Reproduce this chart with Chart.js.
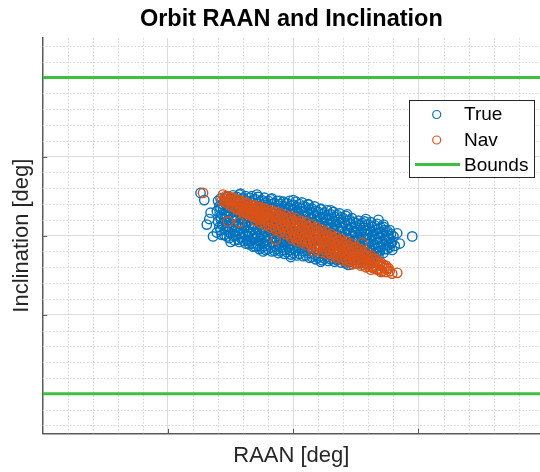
<!DOCTYPE html>
<html>
<head>
<meta charset="utf-8">
<script src="https://cdn.jsdelivr.net/npm/chart.js@4"></script>
<style>
html,body{margin:0;padding:0;background:#fff;overflow:hidden;}
canvas{display:block;}
</style>
</head>
<body>
<canvas id="c" width="540" height="472"></canvas>
<script>
// ---- axis setup (no tick labels are shown in the reference) ----
const raanRange = [0, 397];
const incRange = [-250, 250];
const majorStep = 100;
const minorStep = 20;
const incBounds = [200, -200];
const seriesLabels = ['True', 'Nav', 'Bounds'];

// ---- True orbit (RAAN, Inclination) ----
const truePoints = [
[126,54],[129,45],[131,14],[134,29],[133,21],[136,-1],
[140,44],[141,37],[139,31],[142,24],[140,18],[141,11],[139,4],
[142,47],[143,40],[142,34],[143,27],[142,21],[143,14],[142,7],[143,1],
[145,47],[146,40],[144,34],[146,28],[145,21],[144,15],[146,8],[145,1],
[147,49],[148,43],[147,37],[148,31],[147,25],[148,18],[147,12],[148,5],[147,-1],
[150,46],[151,41],[149,35],[150,28],[152,22],[149,16],[151,9],[150,3],[149,-3],
[152,51],[153,44],[152,38],[153,32],[152,25],[153,19],[152,13],[153,6],[152,0],[153,-6],
[155,49],[156,43],[154,37],[156,31],[155,25],[154,19],[156,12],[155,6],[154,0],[156,-5],
[157,52],[158,46],[157,40],[158,34],[157,28],[158,22],[157,15],[158,9],[157,3],[158,-3],[157,-8],
[160,47],[161,41],[159,34],[161,28],[160,22],[159,16],[161,10],[160,3],[159,-3],[161,-7],
[162,50],[163,44],[162,38],[163,31],[162,25],[163,19],[162,13],[163,6],[162,0],[163,-5],[162,-10],
[165,48],[166,42],[164,36],[166,30],[165,24],[164,18],[166,11],[165,5],[164,-1],[166,-7],[165,-11],
[167,50],[168,45],[167,39],[168,33],[167,27],[168,21],[167,14],[168,8],[167,2],[168,-4],[167,-10],[168,-14],
[170,46],[171,40],[169,33],[171,27],[170,21],[169,15],[171,8],[170,2],[169,-4],[171,-10],[170,-14],
[172,49],[173,43],[172,36],[173,30],[172,24],[173,18],[172,11],[173,5],[172,-1],[173,-7],[172,-13],[173,-17],
[175,45],[176,39],[174,33],[176,27],[175,21],[174,14],[176,8],[175,2],[174,-4],[176,-10],[175,-15],
[177,48],[178,42],[177,36],[178,30],[177,24],[178,17],[177,11],[178,5],[177,-1],[178,-7],[177,-13],[178,-18],
[180,44],[181,37],[179,31],[181,25],[180,19],[179,13],[181,6],[180,0],[179,-6],[181,-12],[180,-17],
[182,46],[183,40],[182,34],[183,28],[182,22],[183,16],[182,9],[183,3],[182,-3],[183,-9],[182,-15],[183,-20],
[185,41],[186,35],[184,29],[186,22],[185,16],[184,10],[186,4],[185,-3],[184,-9],[186,-14],[185,-19],
[187,44],[188,38],[187,32],[188,25],[187,19],[188,13],[187,7],[188,0],[187,-6],[188,-12],[187,-17],[188,-22],
[190,40],[191,34],[189,28],[191,22],[190,15],[189,9],[191,3],[190,-3],[189,-9],[191,-15],[190,-20],
[192,43],[193,37],[192,31],[193,25],[192,18],[193,12],[192,6],[193,0],[192,-6],[193,-12],[192,-18],[193,-23],
[195,41],[196,35],[194,29],[196,23],[195,16],[194,10],[196,4],[195,-2],[194,-8],[196,-14],[195,-21],
[197,44],[198,38],[197,32],[198,26],[197,19],[198,13],[197,7],[198,1],[197,-5],[198,-11],[197,-18],[198,-24],
[200,39],[201,33],[199,27],[201,21],[200,14],[199,8],[201,2],[200,-4],[199,-10],[201,-16],[200,-22],
[202,43],[203,36],[202,30],[203,24],[202,17],[203,11],[202,5],[203,-1],[202,-7],[203,-13],[202,-19],[203,-25],
[205,40],[206,34],[204,28],[206,22],[205,15],[204,9],[206,3],[205,-3],[204,-9],[206,-16],[205,-23],
[207,42],[208,37],[207,31],[208,25],[207,18],[208,12],[207,6],[208,0],[207,-6],[208,-12],[207,-19],[208,-26],
[210,36],[211,30],[209,24],[211,18],[210,12],[209,5],[211,-1],[210,-7],[209,-13],[211,-19],[210,-25],
[212,39],[213,33],[212,27],[213,21],[212,15],[213,8],[212,2],[213,-4],[212,-10],[213,-16],[212,-22],[213,-28],
[215,34],[216,28],[214,22],[216,16],[215,10],[214,3],[216,-3],[215,-9],[214,-15],[216,-21],[215,-27],
[217,37],[218,31],[217,25],[218,19],[217,13],[218,6],[217,0],[218,-6],[217,-12],[218,-18],[217,-24],[218,-30],
[220,30],[221,24],[219,18],[221,12],[220,6],[219,0],[221,-6],[220,-12],[219,-17],[221,-23],[220,-28],
[222,33],[223,27],[222,21],[223,15],[222,9],[223,3],[222,-3],[223,-9],[222,-15],[223,-20],[222,-26],[223,-31],
[225,29],[226,23],[224,17],[226,11],[225,5],[224,-1],[226,-7],[225,-13],[224,-19],[226,-24],[225,-29],
[227,32],[228,26],[227,20],[228,14],[227,8],[228,2],[227,-4],[228,-10],[227,-16],[228,-22],[227,-27],[228,-32],
[230,27],[231,21],[229,15],[231,9],[230,3],[229,-3],[231,-9],[230,-15],[229,-21],[231,-26],[230,-30],
[232,30],[233,24],[232,18],[233,12],[232,6],[233,0],[232,-6],[233,-12],[232,-18],[233,-24],[232,-29],[233,-33],
[235,26],[236,20],[234,14],[236,8],[235,2],[234,-4],[236,-10],[235,-16],[234,-22],[236,-27],[235,-31],
[237,28],[238,23],[237,17],[238,11],[237,5],[238,-1],[237,-7],[238,-13],[237,-19],[238,-25],[237,-30],[238,-34],
[240,22],[241,16],[239,10],[241,4],[240,-2],[239,-8],[241,-14],[240,-20],[239,-26],[241,-32],
[242,25],[243,19],[242,13],[243,7],[242,1],[243,-5],[242,-11],[243,-17],[242,-23],[243,-29],[242,-35],
[245,20],[246,14],[244,8],[246,2],[245,-4],[244,-10],[246,-16],[245,-22],[244,-28],[246,-33],
[247,22],[248,17],[247,11],[248,5],[247,-1],[248,-7],[247,-13],[248,-19],[247,-25],[248,-31],[247,-36],
[250,16],[251,10],[249,4],[251,-2],[250,-8],[249,-14],[251,-20],[250,-26],[249,-31],
[252,19],[253,13],[252,7],[253,1],[252,-5],[253,-11],[252,-17],[253,-23],[252,-29],[253,-35],
[255,16],[256,10],[254,4],[256,-2],[255,-8],[254,-14],[256,-20],[255,-26],[254,-32],
[257,18],[258,13],[257,7],[258,1],[257,-5],[258,-11],[257,-17],[258,-23],[257,-29],[258,-34],
[260,14],[261,8],[259,2],[261,-4],[260,-10],[259,-16],[261,-22],[260,-28],
[262,17],[263,11],[262,5],[263,-1],[262,-7],[263,-13],[262,-19],[263,-25],[262,-30],
[265,13],[266,7],[264,1],[266,-5],[265,-11],[264,-17],[266,-23],[265,-27],
[267,15],[268,9],[267,3],[268,-3],[267,-9],[268,-15],[267,-21],[268,-26],
[270,10],[271,4],[269,-2],[271,-8],[270,-14],[269,-20],
[272,11],[273,7],[272,1],[273,-5],[272,-11],[273,-17],[272,-22],
[275,6],[276,0],[274,-6],[276,-12],[275,-17],
[277,7],[278,2],[277,-4],[278,-10],[277,-15],
[280,-1],[279,-8],[281,-13],
[268,20],[272,14],[276,-5],[279,-18],[295,-1],[171,52],[189,44],[222,34],
[158,53],[183,47],[200,45],[212,40],[230,32],[243,27],[258,21],[150,-8],[176,-20],
[198,-27],[222,-33],[244,-37],[262,-33],[285,-10],[283,3]
];

// ---- Navigation estimate (RAAN, Inclination) ----
const navPoints = [
[144,52],[145,47],[143,44],
[146,50],[147,46],[146,42],
[148,50],[149,45],[147,41],
[150,48],[151,43],[150,39],
[152,48],[153,43],[151,37],
[154,46],[155,41],[154,37],[155,33],
[156,45],[157,40],[155,35],
[158,44],[159,39],[158,35],[159,31],
[160,43],[161,38],[159,33],[160,30],
[162,42],[163,37],[162,32],[163,28],
[164,40],[165,35],[163,30],[164,27],
[166,39],[167,35],[166,30],[167,25],
[168,38],[169,33],[167,28],[168,24],
[170,38],[171,33],[170,28],[171,23],[170,19],
[172,36],[173,30],[171,25],[172,21],
[174,36],[175,31],[174,26],[175,21],[174,16],
[176,34],[177,29],[175,24],[176,18],
[178,34],[179,29],[178,24],[179,19],[178,13],
[180,31],[181,26],[179,21],[180,15],
[182,32],[183,27],[182,22],[183,16],[182,10],
[184,29],[185,24],[183,18],[184,12],
[186,30],[187,25],[186,19],[187,14],[186,8],
[188,26],[189,21],[187,15],[188,9],
[190,28],[191,22],[190,17],[191,11],[190,5],
[192,23],[193,18],[191,13],[192,7],
[194,26],[195,20],[194,14],[195,9],[194,2],
[196,22],[197,16],[195,10],[196,4],
[198,24],[199,18],[198,12],[199,6],[198,0],[199,-4],
[200,19],[201,14],[199,8],[200,3],[201,-1],
[202,22],[203,16],[202,10],[203,4],[202,-2],[203,-7],
[204,16],[205,11],[203,5],[204,0],[205,-4],
[206,19],[207,13],[206,8],[207,2],[206,-4],[207,-9],
[208,14],[209,8],[207,3],[208,-3],[209,-7],
[210,17],[211,11],[210,5],[211,0],[210,-6],[211,-12],
[212,11],[213,6],[211,0],[212,-5],[213,-10],
[214,14],[215,8],[214,2],[215,-3],[214,-9],[215,-15],
[216,9],[217,3],[215,-3],[216,-8],[217,-13],
[218,11],[219,5],[218,-1],[219,-6],[218,-12],[219,-18],
[220,6],[221,0],[219,-6],[220,-11],[221,-16],
[222,8],[223,2],[222,-4],[223,-9],[222,-15],[223,-21],
[224,3],[225,-3],[223,-8],[224,-13],[225,-18],
[226,5],[227,-1],[226,-6],[227,-12],[226,-18],[227,-23],
[228,0],[229,-6],[227,-11],[228,-16],[229,-21],
[230,2],[231,-4],[230,-9],[231,-15],[230,-21],[231,-26],
[232,-3],[233,-9],[231,-14],[232,-19],[233,-23],
[234,-1],[235,-7],[234,-12],[235,-18],[234,-23],[235,-28],
[236,-6],[237,-12],[235,-17],[236,-22],[237,-26],
[238,-4],[239,-10],[238,-15],[239,-21],[238,-26],[239,-31],
[240,-9],[241,-15],[239,-20],[240,-25],[241,-29],
[242,-7],[243,-13],[242,-18],[243,-24],[242,-29],[243,-33],
[244,-12],[245,-18],[243,-23],[244,-28],[245,-31],
[246,-10],[247,-16],[246,-21],[247,-27],[246,-32],[247,-36],
[248,-15],[249,-21],[247,-26],[248,-31],[249,-34],
[250,-14],[251,-19],[250,-24],[251,-30],[250,-35],
[252,-19],[253,-24],[251,-29],[252,-34],
[254,-17],[255,-22],[254,-27],[255,-33],[254,-38],
[256,-22],[257,-27],[255,-32],[256,-37],
[258,-21],[259,-26],[258,-31],[259,-36],[258,-40],
[260,-26],[261,-31],[259,-35],[260,-39],
[262,-25],[263,-30],[262,-35],[263,-40],
[264,-29],[265,-34],[263,-38],[264,-41],
[266,-29],[267,-34],[266,-39],[267,-43],
[268,-33],[269,-37],[267,-42],
[270,-34],[271,-39],[270,-43],
[272,-37],[273,-41],[271,-45],
[274,-38],[275,-42],[274,-46],
[276,-41],[277,-45],
[128,54],[148,18],[157,17],[186,-5],[216,-20],[255,-9],[262,-43],[270,-46],[279,-48],[283,-47]
];

const C_TRUE = '#0072BD';
const C_NAV = '#D95319';
const C_BOUND = '#3fbf3f';
const FONT = "'Liberation Sans', Arial, Helvetica, sans-serif";

const toXY = p => ({x: p[0], y: p[1]});

const isMajor = v => Math.abs(v % majorStep) < 1e-9;
const isMinor = v => !isMajor(v) && Math.abs(v % minorStep) < 1e-9;

// ticks at every minor step inside the axis range
function minorTicks(range) {
  const out = [];
  for (let v = Math.ceil(range[0] / minorStep) * minorStep; v <= range[1]; v += minorStep) out.push({value: v});
  return out;
}

const gridPlugin = {
  id: 'matlabGrid',
  beforeDatasetsDraw(chart) {
    const {ctx, chartArea: a, scales: {x, y}} = chart;
    ctx.save();
    ctx.strokeStyle = '#d6d6d6';
    ctx.lineWidth = 1;
    ctx.setLineDash([1.6, 1.8]);
    x.ticks.forEach(t => {
      if (!isMinor(t.value)) return;
      const px = Math.round(x.getPixelForValue(t.value)) + 0.5;
      ctx.beginPath(); ctx.moveTo(px, a.top); ctx.lineTo(px, a.bottom); ctx.stroke();
    });
    y.ticks.forEach(t => {
      if (!isMinor(t.value)) return;
      const py = Math.round(y.getPixelForValue(t.value)) + 0.5;
      ctx.beginPath(); ctx.moveTo(a.left, py); ctx.lineTo(a.right, py); ctx.stroke();
    });
    ctx.setLineDash([]);
    ctx.strokeStyle = '#5a5a5a';
    x.ticks.forEach(t => {
      if (!isMajor(t.value) || t.value === raanRange[0]) return;
      const px = Math.round(x.getPixelForValue(t.value)) + 0.5;
      ctx.beginPath(); ctx.moveTo(px, a.bottom); ctx.lineTo(px, a.bottom - 4.5); ctx.stroke();
    });
    y.ticks.forEach(t => {
      if (!isMajor(t.value)) return;
      const py = Math.round(y.getPixelForValue(t.value)) + 0.5;
      ctx.beginPath(); ctx.moveTo(a.left, py); ctx.lineTo(a.left + 4.5, py); ctx.stroke();
    });
    ctx.restore();
  }
};

const legendPlugin = {
  id: 'matlabLegend',
  afterDraw(chart) {
    const {ctx} = chart;
    const ds = chart.data.datasets;
    const labels = [ds[0].label, ds[1].label, ds[2].label];
    const box = {x: 409.5, y: 100.5, w: 125, h: 77};
    ctx.save();
    ctx.fillStyle = '#ffffff';
    ctx.fillRect(box.x, box.y, box.w, box.h);
    ctx.strokeStyle = '#262626';
    ctx.lineWidth = 1;
    ctx.strokeRect(box.x, box.y, box.w, box.h);
    const rows = [114.5, 140, 165.5];
    ctx.lineWidth = 1.2;
    ctx.strokeStyle = C_TRUE;
    ctx.beginPath(); ctx.arc(436.7, rows[0], 4, 0, Math.PI * 2); ctx.stroke();
    ctx.strokeStyle = C_NAV;
    ctx.beginPath(); ctx.arc(436.7, rows[1], 4, 0, Math.PI * 2); ctx.stroke();
    ctx.strokeStyle = C_BOUND;
    ctx.lineWidth = 3;
    ctx.beginPath(); ctx.moveTo(415, rows[2] - 1); ctx.lineTo(460, rows[2] - 1); ctx.stroke();
    ctx.fillStyle = '#000000';
    ctx.font = "19px " + FONT;
    ctx.textBaseline = 'middle';
    ctx.textAlign = 'left';
    labels.forEach((l, i) => ctx.fillText(l, 464, rows[i] + 0.5));
    ctx.restore();
  }
};

const scatterStyle = color => ({
  pointStyle: 'circle',
  pointRadius: 4.7,
  pointHoverRadius: 4.7,
  pointBorderWidth: 1.4,
  borderColor: color,
  backgroundColor: 'rgba(0,0,0,0)',
  showLine: false
});

new Chart(document.getElementById('c'), {
  type: 'scatter',
  data: {
    datasets: [
      Object.assign({label: seriesLabels[0], data: truePoints.map(toXY), order: 3}, scatterStyle(C_TRUE)),
      Object.assign({label: seriesLabels[1], data: navPoints.map(toXY), order: 2}, scatterStyle(C_NAV)),
      {
        label: seriesLabels[2],
        data: [{x: raanRange[0], y: incBounds[0]}, {x: raanRange[1], y: incBounds[0]}],
        order: 1, showLine: true, pointRadius: 0,
        borderColor: C_BOUND, borderWidth: 3, backgroundColor: C_BOUND
      },
      {
        label: seriesLabels[2] + ' (lower)',
        data: [{x: raanRange[0], y: incBounds[1]}, {x: raanRange[1], y: incBounds[1]}],
        order: 1, showLine: true, pointRadius: 0,
        borderColor: C_BOUND, borderWidth: 3, backgroundColor: C_BOUND
      }
    ]
  },
  options: {
    responsive: false,
    animation: false,
    devicePixelRatio: 1,
    layout: {padding: 0, autoPadding: false},
    plugins: {
      legend: {display: false},
      tooltip: {enabled: false},
      title: {
        display: true,
        text: 'Orbit RAAN and Inclination',
        fullSize: false,
        color: '#000000',
        font: {family: FONT, size: 23.5, weight: 'bold'},
        padding: {top: 5.3, bottom: 4.5}
      }
    },
    scales: {
      x: {
        type: 'linear',
        position: 'bottom',
        min: raanRange[0],
        max: raanRange[1],
        ticks: {display: false},
        afterBuildTicks: s => { s.ticks = minorTicks(raanRange); },
        grid: {
          drawTicks: false,
          lineWidth: 1,
          color: c => (c.tick && isMajor(c.tick.value) && c.tick.value !== raanRange[0]) ? '#dcdcdc' : 'rgba(0,0,0,0)'
        },
        border: {display: true, color: '#5a5a5a', width: 1.5},
        title: {
          display: true,
          text: 'RAAN [deg]',
          color: '#262626',
          font: {family: FONT, size: 22},
          padding: {top: 9.5, bottom: 2.8}
        }
      },
      y: {
        type: 'linear',
        position: 'left',
        min: incRange[0],
        max: incRange[1],
        ticks: {display: false},
        afterBuildTicks: s => { s.ticks = minorTicks(incRange); },
        grid: {
          drawTicks: false,
          lineWidth: 1,
          color: c => (c.tick && isMajor(c.tick.value)) ? '#dcdcdc' : 'rgba(0,0,0,0)'
        },
        border: {display: true, color: '#5a5a5a', width: 1.5},
        title: {
          display: true,
          text: 'Inclination [deg]',
          color: '#262626',
          font: {family: FONT, size: 22},
          padding: {top: 8.3, bottom: 8}
        }
      }
    }
  },
  plugins: [gridPlugin, legendPlugin]
});
</script>
</body>
</html>
